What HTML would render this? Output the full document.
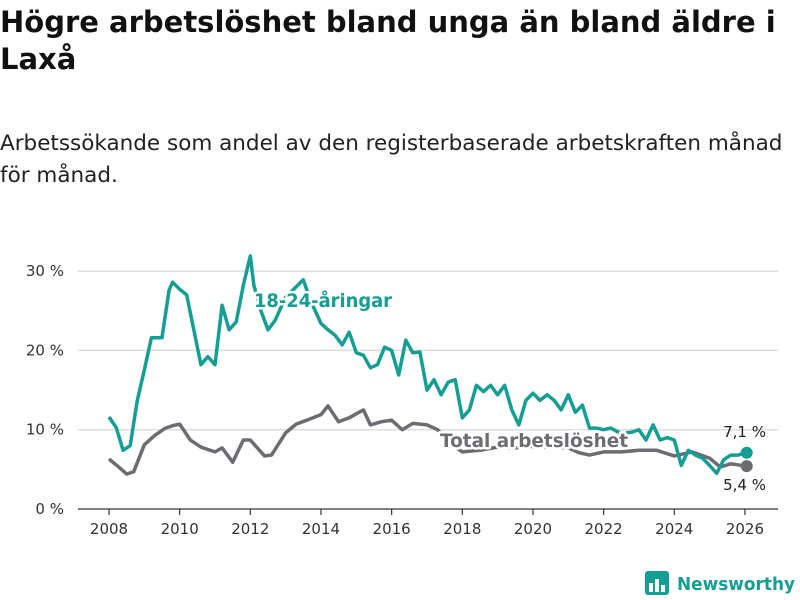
<!DOCTYPE html>
<html><head><meta charset="utf-8">
<style>
body{margin:0;background:#fff;width:800px;height:600px;overflow:hidden;font-family:"DejaVu Sans","Liberation Sans",sans-serif;}
#title{position:absolute;left:0;top:4px;font-weight:bold;font-size:29px;line-height:37px;color:#111;margin:0;white-space:nowrap;}
#sub{position:absolute;left:0;top:128px;font-size:21.5px;line-height:32px;color:#222;margin:0;white-space:nowrap;}
svg{position:absolute;left:0;top:0;}
</style></head><body>
<h1 id="title">Högre arbetslöshet bland unga än bland äldre i<br>Laxå</h1>
<p id="sub">Arbetssökande som andel av den registerbaserade arbetskraften månad<br>för månad.</p>
<svg id="chart" width="800" height="600"></svg>
<script>
const youthYears=[2008.0,2008.2,2008.4,2008.6,2008.8,2009.0,2009.2,2009.5,2009.7,2009.8,2010.0,2010.2,2010.4,2010.6,2010.8,2011.0,2011.2,2011.4,2011.6,2011.8,2012.0,2012.1,2012.3,2012.5,2012.7,2013.0,2013.5,2013.7,2014.0,2014.2,2014.4,2014.6,2014.8,2015.0,2015.2,2015.4,2015.6,2015.8,2016.0,2016.2,2016.4,2016.6,2016.8,2017.0,2017.2,2017.4,2017.6,2017.8,2018.0,2018.2,2018.4,2018.6,2018.8,2019.0,2019.2,2019.4,2019.6,2019.8,2020.0,2020.2,2020.4,2020.6,2020.8,2021.0,2021.2,2021.4,2021.6,2021.8,2022.0,2022.2,2022.5,2022.8,2023.0,2023.2,2023.4,2023.6,2023.8,2024.0,2024.2,2024.4,2024.6,2024.8,2025.0,2025.2,2025.4,2025.6,2025.8,2026.05];
const youthValues=[11.6,10.3,7.4,8,13.7,17.5,21.6,21.6,27.6,28.6,27.7,27,22.6,18.2,19.2,18.2,25.7,22.6,23.6,28.2,31.9,28.2,25,22.6,23.8,26.7,28.9,26.3,23.4,22.6,21.9,20.7,22.3,19.7,19.4,17.8,18.2,20.4,20,16.9,21.3,19.7,19.8,15,16.3,14.4,16,16.3,11.5,12.5,15.6,14.8,15.6,14.4,15.6,12.5,10.6,13.7,14.6,13.7,14.4,13.7,12.5,14.4,12.2,13.1,10.2,10.2,10,10.2,9.5,9.7,10,8.7,10.6,8.7,9,8.7,5.5,7.4,6.8,6.4,5.5,4.5,6.2,6.8,6.8,7.1];
const totalYears=[2008.0,2008.3,2008.5,2008.7,2009.0,2009.3,2009.6,2009.8,2010.0,2010.3,2010.6,2011.0,2011.2,2011.5,2011.8,2012.0,2012.4,2012.6,2013.0,2013.3,2013.6,2014.0,2014.2,2014.5,2014.8,2015.0,2015.2,2015.4,2015.7,2016.0,2016.3,2016.6,2017.0,2017.3,2017.6,2018.0,2018.5,2019.0,2019.5,2020.0,2020.5,2021.0,2021.3,2021.6,2022.0,2022.5,2023.0,2023.5,2024.0,2024.5,2025.0,2025.3,2025.6,2026.05];
const totalValues=[6.3,5.2,4.4,4.7,8.1,9.3,10.2,10.5,10.7,8.7,7.8,7.2,7.7,5.9,8.7,8.7,6.7,6.8,9.6,10.7,11.2,11.9,13,11,11.5,12,12.5,10.6,11,11.2,10,10.8,10.6,10,8.5,7.2,7.4,7.8,7.7,7.9,7.8,7.7,7.1,6.8,7.2,7.2,7.4,7.4,6.7,7.2,6.4,5.3,5.7,5.4];
const yTicks=[0,10,20,30];
const yTickLabels=["0 %","10 %","20 %","30 %"];
const xTicks=[2008,2010,2012,2014,2016,2018,2020,2022,2024,2026];
const NS="http://www.w3.org/2000/svg";
const svg=document.getElementById('chart');
const X=y=>109+(y-2008)*35.33;
const Y=v=>509-v*7.93;
function mk(t,a,p){const e=document.createElementNS(NS,t);for(const k in a)e.setAttribute(k,a[k]);(p||svg).appendChild(e);return e;}
yTicks.forEach((t,i)=>{
  const g=mk('line',{x1:78,x2:778,y1:Y(t),y2:Y(t),stroke:t===0?'#333':'#ddd','stroke-width':t===0?1.2:1.5});
  
  
  const l=mk('text',{x:64,y:Y(t)+5,'text-anchor':'end','font-size':15,fill:'#333'});
  l.textContent=yTickLabels[i];
  
  
});
xTicks.forEach(t=>{
  const tk=mk('line',{x1:X(t),x2:X(t),y1:509,y2:515,stroke:'#333','stroke-width':1.2});
  
  
  const l=mk('text',{x:X(t),y:534,'text-anchor':'middle','font-size':15,fill:'#333'});
  l.textContent=t;
  
  
});
function path(xs,vs){return xs.map((x,i)=>(i?'L':'M')+X(x).toFixed(1)+','+Y(vs[i]).toFixed(1)).join('');}
const tl=mk('path',{d:path(totalYears,totalValues),fill:'none',stroke:'#6e6b72','stroke-width':3.5,'stroke-linejoin':'round'});


const yl=mk('path',{d:path(youthYears,youthValues),fill:'none',stroke:'#149e94','stroke-width':3.5,'stroke-linejoin':'round'});


const td=mk('circle',{cx:X(totalYears[totalYears.length-1]),cy:Y(totalValues[totalValues.length-1]),r:6,fill:'#6e6b72'});


const yd=mk('circle',{cx:X(youthYears[youthYears.length-1]),cy:Y(youthValues[youthValues.length-1]),r:6,fill:'#149e94'});


function lab(txt,x,y,fill,name,bold,halo,anchor,len){
  const a={x:x,y:y,'font-size':bold?19:15,'font-weight':bold?'bold':'normal',fill:fill,'text-anchor':anchor||'start',stroke:halo?'#fff':'none','stroke-width':halo?5:0,'paint-order':'stroke','stroke-linejoin':'round'};
  if(len){a.textLength=len;a.lengthAdjust='spacingAndGlyphs';}
  const t=mk('text',a);
  t.textContent=txt;
  
  
}
lab('18-24-åringar',254,307,'#149e94','youth-series-label',true,true,null,138);
lab('Total arbetslöshet',440,447,'#6e6b72','total-series-label',true,true,null,188);
lab('7,1 %',766,437,'#222','youth-end-value',false,false,'end');
lab('5,4 %',766,490,'#222','total-end-value',false,false,'end');
// logo
const lg=mk('g',{});


mk('rect',{x:645,y:571,width:24,height:24,rx:3,fill:'#149e94'},lg);
mk('rect',{x:649,y:583,width:4,height:9,fill:'#fff'},lg);
mk('rect',{x:655,y:579,width:4,height:13,fill:'#fff'},lg);
mk('rect',{x:661,y:585,width:4,height:7,fill:'#fff'},lg);
const lt=mk('text',{x:677,y:590,'font-size':18,'font-weight':'bold',fill:'#149e94',textLength:118,lengthAdjust:'spacingAndGlyphs'},lg);
lt.textContent='Newsworthy';
</script>
</body></html>
